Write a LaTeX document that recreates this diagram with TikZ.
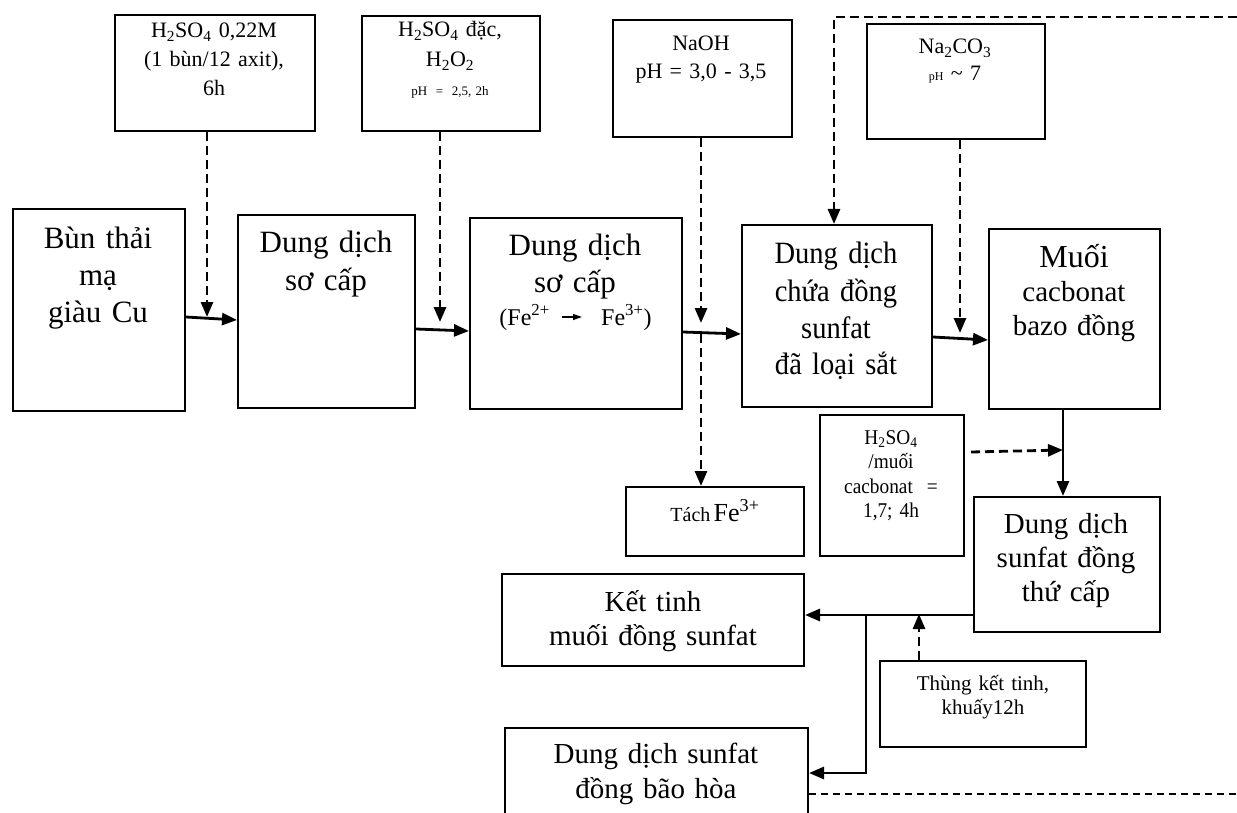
\documentclass[tikz,border=0pt]{standalone}
\usepackage{fontspec}
\setmainfont{Liberation Serif}
\newfontfamily\condfont[FakeStretch=0.92]{Liberation Serif}
\usetikzlibrary{arrows.meta}
\newcommand\mkbox[5]{\node[box, minimum width={(#4-#2)*1pt}, minimum height={(#5-#3)*1pt}] (#1) at (#2,#3) {};}
\newcommand\szTop{\fontsize{22}{29}\selectfont}
\newcommand\szMain{\fontsize{31}{37}\selectfont}
\newcommand\szLow{\fontsize{29}{34}\selectfont}
\begin{document}
\begin{tikzpicture}[x=1pt,y=-1pt,
  box/.style={draw, line width=2pt, inner sep=0pt, anchor=north west},
  tx/.style={inner sep=0pt, align=center, anchor=base},
  arr/.style={line width=2.8pt, -{Triangle[length=15pt,width=12pt]}},
  darr/.style={line width=2.8pt, dash pattern=on 9pt off 5pt, -{Triangle[length=15pt,width=12pt]}},
  thindash/.style={line width=1.8pt, dash pattern=on 7pt off 5pt},
  smallarr/.style={line width=1.2pt, -{Triangle[length=9pt,width=6pt]}}]
\useasboundingbox (0,0) rectangle (1237,813);
\clip (0,0) rectangle (1237,813);

% boxes
\mkbox{A}{114}{14}{314}{130}
\mkbox{B}{361}{15}{539}{130}
\mkbox{C}{612}{19}{791}{136}
\mkbox{D}{866}{23}{1044}{138}
\mkbox{bun}{12}{208}{184}{410}
\mkbox{so1}{237}{214}{414}{407}
\mkbox{so2}{469}{217}{681}{408}
\mkbox{chua}{741}{224}{931}{406}
\mkbox{muoi}{988}{228}{1159}{408}
\mkbox{tach}{625}{486}{803}{555}
\mkbox{h2}{819}{414}{963}{555}
\mkbox{thucap}{973}{496}{1159}{631}
\mkbox{kettinh}{501}{573}{803}{665}
\mkbox{baohoa}{504}{727}{807}{840}
\mkbox{thung}{879}{660}{1085}{746}

% texts
\node[tx, text width=196pt, font=\szTop] (At) at (214,38) {H\textsubscript{2}SO\textsubscript{4} 0,22M\\(1 bùn/12 axit),\\6h};
\node[tx, text width=174pt, font=\fontsize{22}{30}\selectfont] (Bt) at (450,37) {H\textsubscript{2}SO\textsubscript{4} đặc,\\H\textsubscript{2}O\textsubscript{2}};
\node[tx, text width=174pt, font=\fontsize{13}{15}\selectfont] (Bt2) at (450,96) {pH \ = \ 2,5, 2h};
\node[tx, text width=175pt, font=\fontsize{22}{28}\selectfont] (Ct) at (701,51) {NaOH\\pH = 3,0 - 3,5};
\node[tx, text width=174pt, font=\fontsize{22}{27}\selectfont] (Dt) at (955,54) {Na\textsubscript{2}CO\textsubscript{3}\\{\fontsize{12}{12}\selectfont pH} \textasciitilde{} 7};

\node[tx, text width=168pt, font=\szMain] (bunt) at (98,248) {Bùn thải\\mạ\\giàu Cu};
\node[tx, text width=174pt, font=\szMain] (so1t) at (326,253) {Dung dịch\\sơ cấp};
\node[tx, text width=208pt, font=\szMain] (so2t) at (575,255) {Dung dịch\\sơ cấp};
\node[inner sep=0pt, anchor=base east, font=\fontsize{24}{28}\selectfont] (fe1) at (550,325) {(Fe\textsuperscript{2+}};
\node[inner sep=0pt, anchor=base west, font=\fontsize{24}{28}\selectfont] (fe2) at (601,325) {Fe\textsuperscript{3+})};
\draw[smallarr] ([shift={(12pt,8pt)}]fe1.base east) -- ([shift={(-19pt,8pt)}]fe2.base west);
\node[tx, text width=186pt, font=\condfont\fontsize{31}{37}\selectfont] (chuat) at (836,264) {Dung dịch\\chứa đồng\\sunfat\\đã loại sắt};
\node[tx, text width=167pt, font=\fontsize{29}{34}\selectfont] (muoit) at (1074,268) {{\fontsize{32}{34}\selectfont Muối}\\cacbonat\\bazo đồng};

\node[tx, text width=174pt] (tacht) at (715,521) {{\fontsize{20}{24}\selectfont Tách} {\fontsize{26}{28}\selectfont Fe\textsuperscript{3+}}};
\node[tx, text width=140pt, font=\condfont\fontsize{21}{24.5}\selectfont] (h2t) at (891,444) {H\textsubscript{2}SO\textsubscript{4}\\/muối\\cacbonat \ =\\1,7; 4h};
\node[tx, text width=182pt, font=\szLow] (thucapt) at (1066,533) {Dung dịch\\sunfat đồng\\thứ cấp};
\node[tx, text width=298pt, font=\szLow] (kettinht) at (653,611) {Kết tinh\\muối đồng sunfat};
\node[tx, text width=299pt, font=\fontsize{29}{35}\selectfont] (baohoat) at (656,763) {Dung dịch sunfat\\đồng bão hòa};
\node[tx, text width=202pt, font=\fontsize{21}{24}\selectfont] (thungt) at (983,690) {Thùng kết tinh,\\khuấy12h};

% junction coordinates
\coordinate (jA) at (207,317);
\coordinate (jB) at (440,322);
\coordinate (jC1) at (701,323);
\coordinate (jC2) at (701,334);
\coordinate (jD) at (960,333);
\coordinate (jTop1) at (1237,17);
\coordinate (jTop2) at (834,17);
\coordinate (jM) at (1063,450);
\coordinate (jK) at (866,615);
\coordinate (jK2) at (866,773);
\coordinate (jT) at (919,614);
\coordinate (jBot) at (1237,794);

% main flow
\draw[arr] (bun.east |- 0,317) -- (so1.west |- 0,320);
\draw[arr] (so1.east |- 0,329) -- (so2.west |- 0,331);
\draw[arr] (so2.east |- 0,332) -- (chua.west |- 0,334);
\draw[arr] (chua.east |- 0,337) -- (muoi.west |- 0,340);

% reagent inputs
\draw[darr] (jA |- A.south) -- (jA);
\draw[darr] (jB |- B.south) -- (jB);
\draw[darr] (jC1 |- C.south) -- (jC1);
\draw[darr] (jC2) -- (jC2 |- tach.north);
\draw[darr] (jD |- D.south) -- (jD);
\draw[darr] (jTop1) -- (jTop2) -- (jTop2 |- chua.north);

% lower part
\draw[arr] (jM |- muoi.south) -- (jM |- thucap.north);
\draw[darr] ([xshift=6pt]h2.east |- 0,452) -- (jM);
\draw[arr] (thucap.west |- jK) -- (kettinh.east |- jK);
\draw[arr] (jK) -- (jK2) -- (baohoa.east |- jK2);
\draw[darr] (jT |- thung.north) -- (jT);
\draw[thindash] (baohoa.east |- jBot) -- (jBot);
\end{tikzpicture}
\end{document}
